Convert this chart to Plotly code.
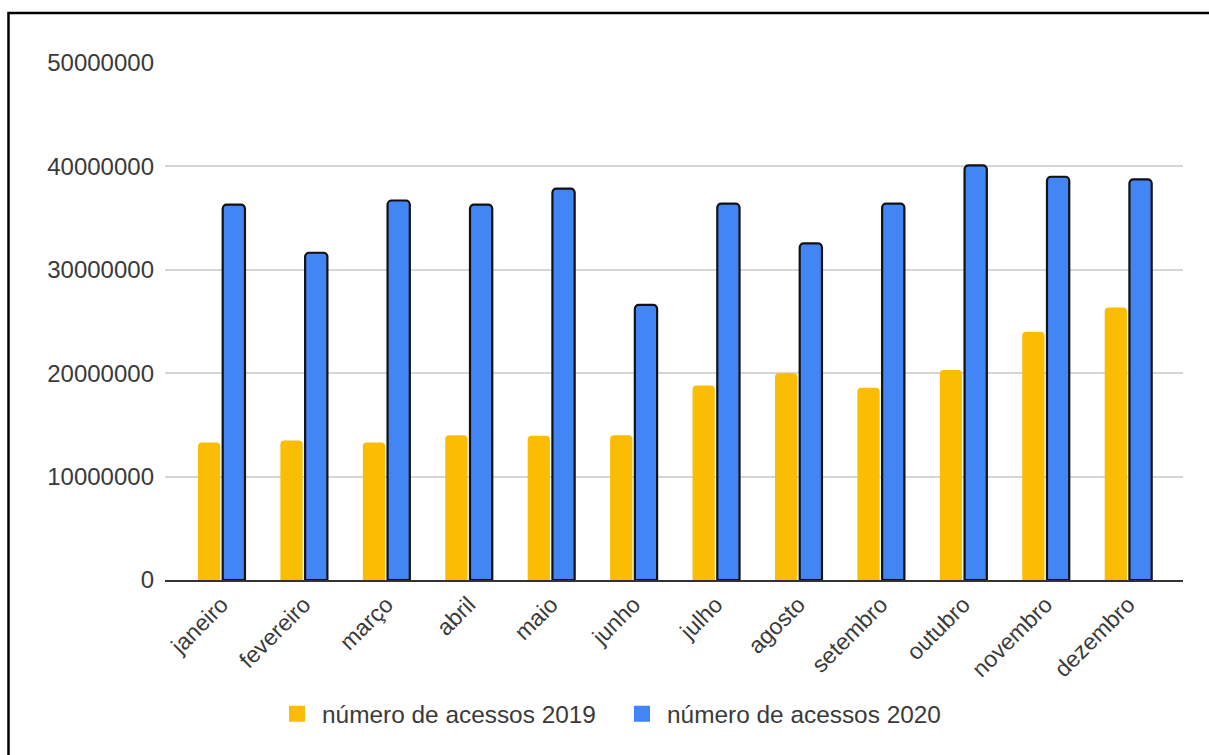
import plotly.graph_objects as go

meses = ["janeiro", "fevereiro", "março", "abril", "maio", "junho",
         "julho", "agosto", "setembro", "outubro", "novembro", "dezembro"]
acessos_2019 = [13.3e6, 13.5e6, 13.3e6, 14.0e6, 13.95e6, 14.0e6,
                18.8e6, 20.0e6, 18.6e6, 20.3e6, 24.0e6, 26.35e6]
acessos_2020 = [36.3e6, 31.65e6, 36.7e6, 36.3e6, 37.85e6, 26.6e6,
                36.4e6, 32.55e6, 36.4e6, 40.1e6, 39.0e6, 38.75e6]
nome_2019 = "número de acessos 2019"
nome_2020 = "número de acessos 2020"
y_ticks = [0, 10000000, 20000000, 30000000, 40000000, 50000000]

AMARELO = "#FBBC04"
AZUL = "#4285F4"
FONT = "Liberation Sans, Arial, sans-serif"
TXT = "#3a3a3a"

fig = go.Figure()
fig.add_trace(go.Bar(x=meses, y=acessos_2019, name=nome_2019,
                     marker=dict(color=AMARELO, line=dict(width=0)),
                     showlegend=False))
fig.add_trace(go.Bar(x=meses, y=acessos_2020, name=nome_2020,
                     marker=dict(color=AZUL, line=dict(color="#111111", width=2.2)),
                     showlegend=False))
# legend proxies (plain squares, like the reference legend)
fig.add_trace(go.Scatter(x=[None], y=[None], mode="markers", name=nome_2019,
                         marker=dict(symbol="square", size=16, color=AMARELO)))
fig.add_trace(go.Scatter(x=[None], y=[None], mode="markers", name=nome_2020,
                         marker=dict(symbol="square", size=16, color=AZUL)))

L, R, T, B = 165, 26, 63, 175
W, H = 1209, 755
pw, ph = W - L - R, H - T - B

def px(x):
    return (x - L) / pw

def py(y):
    return (H - B - y) / ph

fig.update_layout(
    width=W, height=H,
    margin=dict(l=L, r=R, t=T, b=B),
    paper_bgcolor="white", plot_bgcolor="white",
    barmode="group", bargap=0.40, bargroupgap=0.1,
    barcornerradius=4,
    font=dict(family=FONT, size=24, color=TXT),
    legend=dict(orientation="h", x=px(272), xanchor="left",
                y=py(714), yanchor="middle",
                font=dict(family=FONT, size=24.4, color=TXT),
                itemsizing="trace", itemwidth=40,
                entrywidth=290, entrywidthmode="pixels",
                tracegroupgap=0,
                bgcolor="rgba(0,0,0,0)"),
    xaxis=dict(type="category", range=[-0.685, 11.665],
               tickangle=-45, ticks="", showgrid=False,
               showline=True, linecolor="#333333", linewidth=2,
               tickfont=dict(family=FONT, size=23, color=TXT)),
    yaxis=dict(range=[0, 50000000], tickvals=y_ticks, tickformat="d",
               showgrid=True, gridcolor="#d6d6d6", gridwidth=1.5,
               zeroline=False, ticks="", ticklabelstandoff=10,
               tickfont=dict(family=FONT, size=24, color=TXT)),
    shapes=[dict(type="path", xref="paper", yref="paper",
                 path=f"M {px(8.5)},{py(770)} L {px(8.5)},{py(13)} L {px(1230)},{py(13)}",
                 line=dict(color="#000000", width=2.5))],
)

fig.write_html("out.html")
